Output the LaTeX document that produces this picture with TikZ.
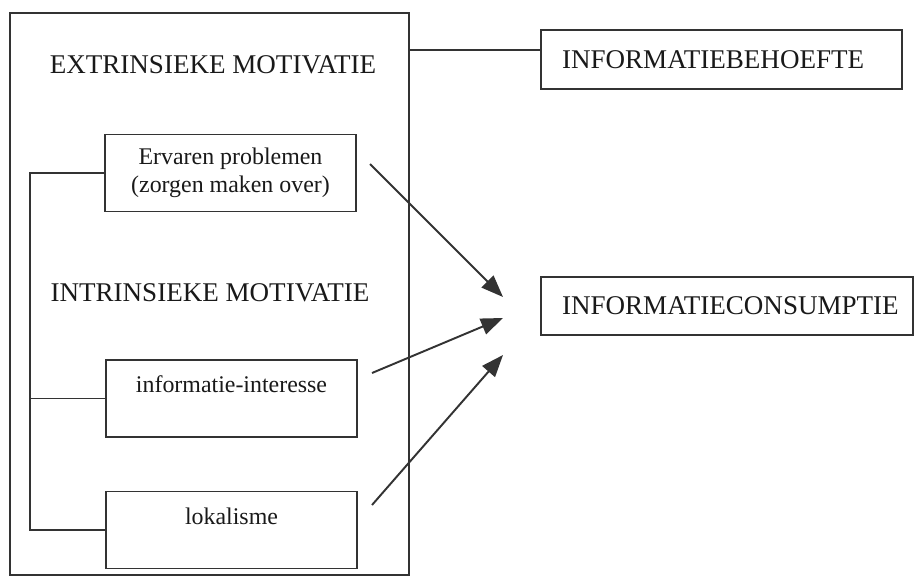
\documentclass[tikz,border=0pt]{standalone}
\usepackage{fontspec}
\setmainfont{Liberation Serif}
\usetikzlibrary{arrows.meta}

\begin{document}
\begin{tikzpicture}[x=0.02cm, y=-0.02cm, >={Triangle[length=12.5pt, width=9.5pt]},
  line/.style={line width=1.1pt, draw=black!80},
  box/.style={line, minimum width=5.02cm, minimum height=1.54cm, align=center, font=\fontsize{13.6}{16}\selectfont, text=black!90},
  title/.style={font=\fontsize{15.4}{18}\selectfont, text=black!90},
  outcome/.style={line, title, minimum height=1.17cm, align=left},
  edge/.style={->, line}
]
\useasboundingbox (0,0) rectangle (917,576);
\node[line, minimum width=7.98cm, minimum height=11.24cm] (motiv) at (209.5,294) {};
\node[title] (extr) at (213,65) {EXTRINSIEKE MOTIVATIE};
\node[title] (intr) at (210,293) {INTRINSIEKE MOTIVATIE};
\node[box] (probl) at (230.5,173) {Ervaren problemen\\(zorgen maken over)};
\node[box] (inter) at (231.5,398.5) {informatie-interesse\\\mbox{}};
\node[box] (lokal) at (231.5,530) {lokalisme\\\mbox{}};
\node[outcome, minimum width=7.22cm, text width=6.38cm] (behoefte) at (721.5,59.5) {INFORMATIEBEHOEFTE};
\node[outcome, minimum width=7.44cm, text width=6.6cm] (consumptie) at (727,306) {INFORMATIECONSUMPTIE};
\coordinate (spine) at (30,173);
\draw[line] (probl.west) -| (spine |- lokal.west) -- (lokal.west);
\draw[line] (inter.west) -- (inter.west -| spine);
\draw[line] (motiv.east |- 0,50) -- (behoefte.west |- 0,50);
\coordinate (s1) at (370,164);
\coordinate (s2) at (372,373);
\coordinate (s3) at (372,505);
\coordinate (t1) at (503,297);
\coordinate (t2) at (503,318);
\coordinate (t3) at (503,355);
\draw[edge] (s1) -- (t1);
\draw[edge] (s2) -- (t2);
\draw[edge] (s3) -- (t3);
\end{tikzpicture}
\end{document}
